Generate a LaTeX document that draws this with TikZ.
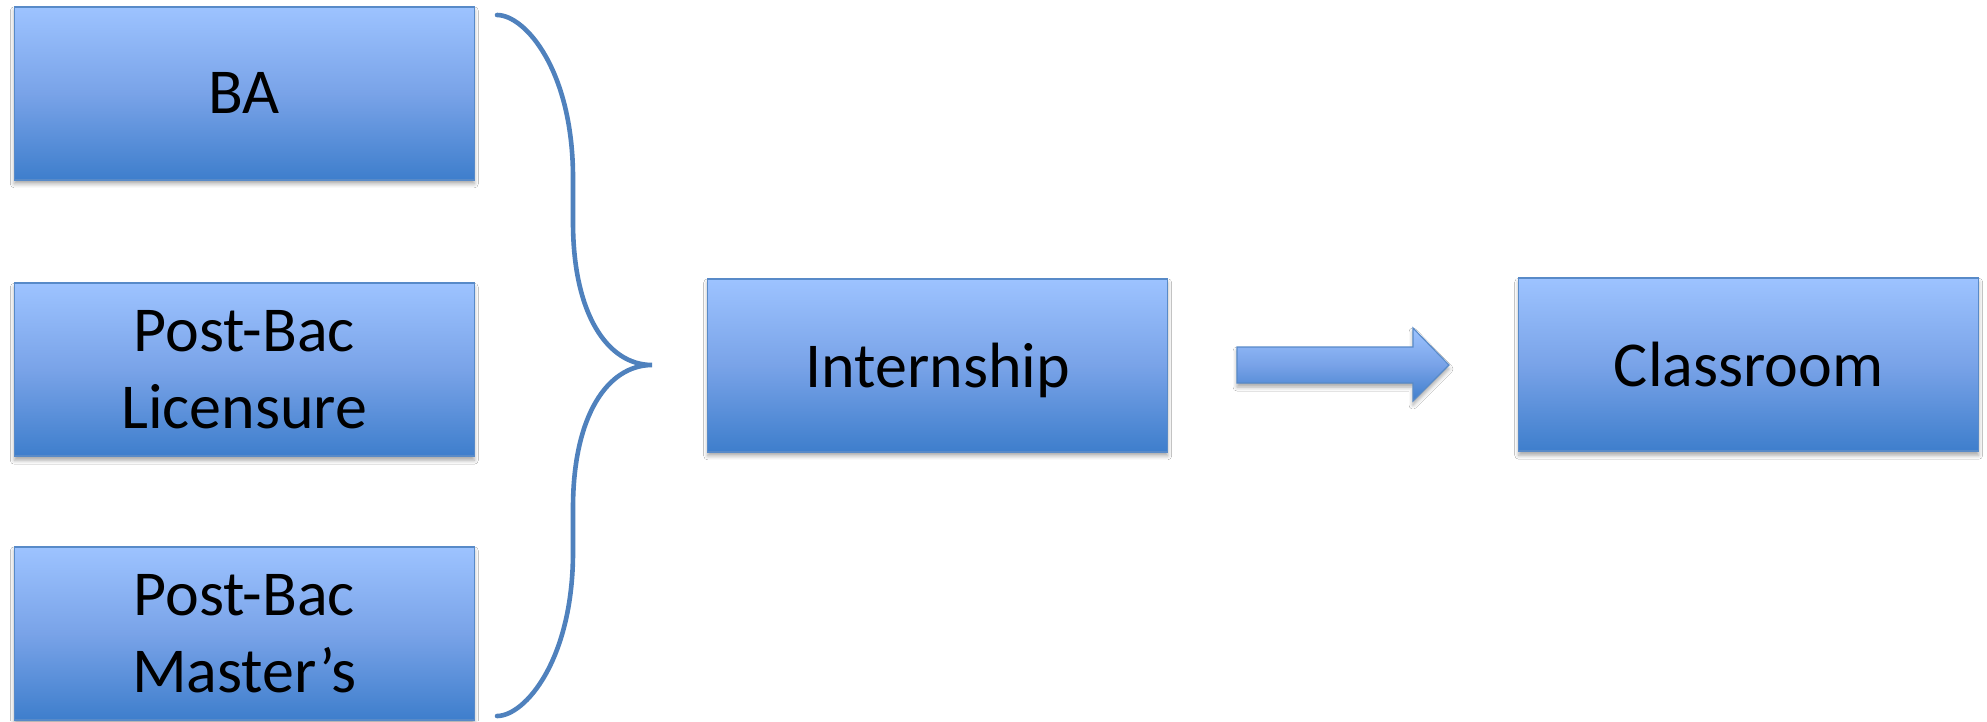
\documentclass[tikz,border=0pt]{standalone}
\usepackage{fontspec}
\setmainfont{Carlito}
\usetikzlibrary{shadows.blur}
\definecolor{boxtop}{RGB}{157,195,255}
\definecolor{boxmid}{RGB}{121,163,232}
\definecolor{boxbot}{RGB}{62,126,204}
\definecolor{boxline}{RGB}{88,138,200}
\definecolor{bracecol}{RGB}{79,129,189}
\tikzset{
  stagebox/.style={rectangle, inner sep=0pt, align=center,
    minimum width=460pt, minimum height=173pt,
    top color=boxtop, bottom color=boxbot, middle color=boxmid,
    draw=boxline, line width=1.5pt,
    blur shadow={shadow xshift=0pt, shadow yshift=-4pt, shadow blur radius=4pt, shadow opacity=35},
    font=\fontsize{64}{77}\selectfont},
  bracestyle/.style={draw=bracecol, line width=4.6pt, line cap=round},
  bigarrow/.style={top color=boxtop, bottom color=boxbot, middle color=boxmid,
    draw=boxline, line width=1.2pt,
    blur shadow={shadow xshift=0pt, shadow yshift=-4pt, shadow blur radius=4pt, shadow opacity=35}}
}
\begin{document}
\begin{tikzpicture}[x=1pt,y=-1pt]
\useasboundingbox (0,0) rectangle (1987,721);
\fill[white] (0,0) rectangle (1987,721);
\node[stagebox] (ba) at (244.3,93.3) {BA};
\node[stagebox] (lic) at (244.3,369.7) {Post-Bac\\Licensure};
\node[stagebox] (mas) at (244.3,633.3) {Post-Bac\\Master’s};
\node[stagebox, text depth=0pt] (int) at (937.7,365.3) {Internship};
\node[stagebox] (cls) at (1748.7,364.7) {Classroom};
% brace
\coordinate (btop) at (497,15);
\coordinate (btip) at (652,365);
\coordinate (bbot) at (497,716);
\draw[bracestyle] (btop) .. controls (525,15) and (573,70) .. (573,178)
  -- (573,222) .. controls (573,315) and (608,365) .. (btip)
  .. controls (608,365) and (573,415) .. (573,508)
  -- (573,552) .. controls (573,660) and (525,716) .. (bbot);
% block arrow
\shade[bigarrow] (1237,347) -- (1413,347) -- (1413,328) -- (1449,365)
  -- (1413,401) -- (1413,383) -- (1237,383) -- cycle;
\end{tikzpicture}
\end{document}
